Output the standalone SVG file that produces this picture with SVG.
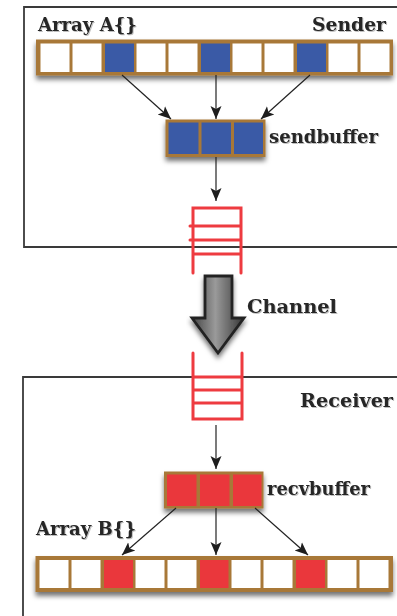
<svg xmlns="http://www.w3.org/2000/svg" width="397" height="616" viewBox="0 0 397 616">
  <style>
    .box { fill: none; stroke: #3a3a3a; stroke-width: 1.8; }
    .frame { fill: #A87838; }
    .cell { fill: #ffffff; }
    .blue { fill: #3A5AA6; }
    .red { fill: #EA373C; }
    .lbl { font-family: "DejaVu Serif", "Liberation Serif", serif; font-weight: bold; font-size: 18.5px; fill: #262626; }
    .conn { stroke: #222; stroke-width: 1.2; fill: none; marker-end: url(#ah); }
    .queue { fill: none; stroke: #EE3B40; stroke-width: 3; stroke-linecap: round; }
  </style>
  <defs>
    <marker id="ah" markerUnits="userSpaceOnUse" markerWidth="14" markerHeight="14" viewBox="0 0 14 14" refX="13" refY="7" orient="auto">
      <path d="M0,1.5 L13,7 L0,12.5 L3,7 Z" fill="#1e1e1e"/>
    </marker>
    <filter id="sh" x="-10%" y="-30%" width="120%" height="180%">
      <feDropShadow dx="0" dy="4" stdDeviation="2.5" flood-color="#000" flood-opacity="0.55"/>
    </filter>
    <filter id="tsh" x="-5%" y="-20%" width="110%" height="150%">
      <feDropShadow dx="1" dy="1" stdDeviation="0.6" flood-color="#000" flood-opacity="0.25"/>
    </filter>
    <linearGradient id="ag" x1="0" y1="0" x2="1" y2="0">
      <stop offset="0" stop-color="#454545"/>
      <stop offset="0.45" stop-color="#9a9a9a"/>
      <stop offset="1" stop-color="#353535"/>
    </linearGradient>
  </defs>

  <g id="sender">
    <path class="box" d="M400,7 L24,7 L24,247 L400,247"/>
    <text class="lbl" x="312" y="31" textLength="74" lengthAdjust="spacingAndGlyphs" filter="url(#tsh)">Sender</text>
  </g>

  <g id="receiver">
    <path class="box" d="M400,377 L23,377 L23,620"/>
    <text class="lbl" x="300" y="407" textLength="93" lengthAdjust="spacingAndGlyphs" filter="url(#tsh)">Receiver</text>
  </g>

  <g id="arrayA">
    <rect class="frame" x="36" y="39.5" width="357" height="36" filter="url(#sh)"/>
    <rect class="cell" x="40.5" y="43.5" width="29" height="28.5"/>
    <rect class="cell" x="72.5" y="43.5" width="29" height="28.5"/>
    <rect class="blue" x="105" y="43.5" width="29" height="28.5"/>
    <rect class="cell" x="136.5" y="43.5" width="29" height="28.5"/>
    <rect class="cell" x="168.5" y="43.5" width="29" height="28.5"/>
    <rect class="blue" x="201" y="43.5" width="29" height="28.5"/>
    <rect class="cell" x="232.5" y="43.5" width="29" height="28.5"/>
    <rect class="cell" x="264.5" y="43.5" width="29" height="28.5"/>
    <rect class="blue" x="297" y="43.5" width="29" height="28.5"/>
    <rect class="cell" x="328.5" y="43.5" width="29" height="28.5"/>
    <rect class="cell" x="360.5" y="43.5" width="29" height="28.5"/>
    <text class="lbl" x="38" y="31" textLength="99" lengthAdjust="spacingAndGlyphs" filter="url(#tsh)">Array A{}</text>
  </g>

  <g id="sendbuffer">
    <rect class="frame" x="165.5" y="119.5" width="100" height="37.5" filter="url(#sh)"/>
    <rect class="blue" x="168.5" y="122.5" width="30" height="31.5"/>
    <rect class="blue" x="201.5" y="122.5" width="29.5" height="31.5"/>
    <rect class="blue" x="234" y="122.5" width="29" height="31.5"/>
    <text class="lbl" x="269" y="143" textLength="109" lengthAdjust="spacingAndGlyphs" filter="url(#tsh)">sendbuffer</text>
  </g>

  <g id="queueTop">
    <path class="queue" d="M193,273 L193,208 L241,208 L241,273 M190,226 L241,226 M190,240 L241,240 M193,254 L241,254"/>
  </g>

  <g id="channel">
    <path d="M205,276 L232,276 L232,318 L244,318 L218,353 L192,318 L205,318 Z" fill="url(#ag)" stroke="#222" stroke-width="2.8" stroke-linejoin="miter" filter="url(#sh)"/>
    <text class="lbl" x="247" y="313" textLength="90" lengthAdjust="spacingAndGlyphs" filter="url(#tsh)">Channel</text>
  </g>

  <g id="queueBottom">
    <path class="queue" d="M193,353 L193,419 L242,419 L242,353 M193,377 L242,377 M193,390 L242,390 M193,403 L242,403"/>
  </g>

  <g id="recvbuffer">
    <rect class="frame" x="164" y="471.5" width="99.5" height="37" filter="url(#sh)"/>
    <rect class="red" x="167" y="474.5" width="29.5" height="31.5"/>
    <rect class="red" x="200" y="474.5" width="29.5" height="31.5"/>
    <rect class="red" x="233" y="474.5" width="28.5" height="31.5"/>
    <text class="lbl" x="267" y="495" textLength="103" lengthAdjust="spacingAndGlyphs" filter="url(#tsh)">recvbuffer</text>
  </g>

  <g id="arrayB">
    <rect class="frame" x="35.5" y="556" width="357.5" height="36" filter="url(#sh)"/>
    <rect class="cell" x="39.5" y="560" width="29" height="28"/>
    <rect class="cell" x="71.5" y="560" width="29" height="28"/>
    <rect class="red" x="104" y="560" width="29" height="28"/>
    <rect class="cell" x="135.5" y="560" width="29" height="28"/>
    <rect class="cell" x="167.5" y="560" width="29" height="28"/>
    <rect class="red" x="200" y="560" width="28.5" height="28"/>
    <rect class="cell" x="231.5" y="560" width="29" height="28"/>
    <rect class="cell" x="263.5" y="560" width="29" height="28"/>
    <rect class="red" x="296" y="560" width="29" height="28"/>
    <rect class="cell" x="327.5" y="560" width="29" height="28"/>
    <rect class="cell" x="359.5" y="560" width="29" height="28"/>
    <text class="lbl" x="36" y="535" textLength="100" lengthAdjust="spacingAndGlyphs" filter="url(#tsh)">Array B{}</text>
  </g>

  <g id="connectors">
    <line class="conn" x1="122" y1="75" x2="171" y2="119"/>
    <line class="conn" x1="216" y1="75" x2="216" y2="119"/>
    <line class="conn" x1="310" y1="75" x2="261" y2="119"/>
    <line class="conn" x1="216" y1="157" x2="216" y2="201"/>
    <line class="conn" x1="216" y1="425" x2="216" y2="469"/>
    <line class="conn" x1="176" y1="508" x2="122" y2="555"/>
    <line class="conn" x1="216" y1="508" x2="216" y2="555"/>
    <line class="conn" x1="255" y1="508" x2="308" y2="555"/>
  </g>
</svg>
